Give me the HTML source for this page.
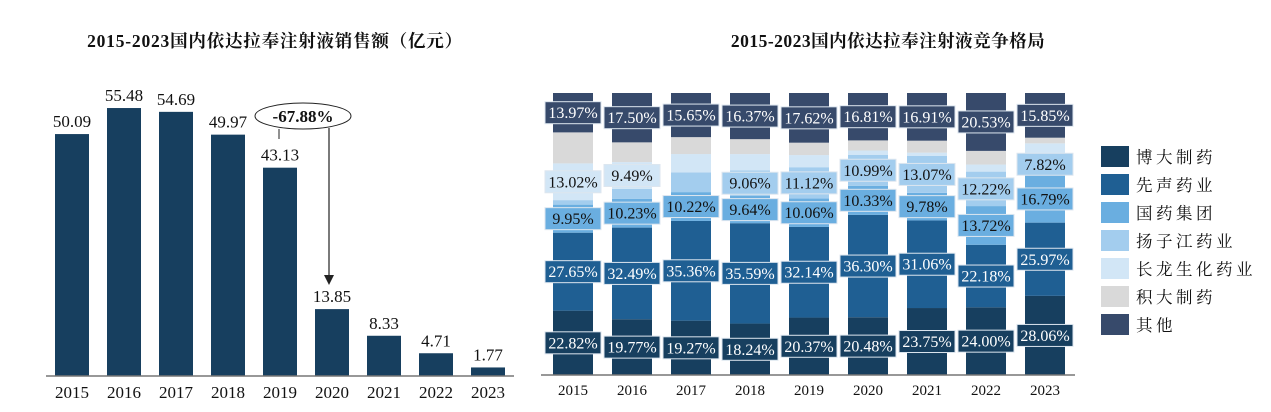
<!DOCTYPE html>
<html><head><meta charset="utf-8"><style>
html,body{margin:0;padding:0;background:#fff;width:1271px;height:412px;overflow:hidden}
svg{display:block}
text{font-family:"Liberation Serif","Noto Serif CJK SC",serif}
</style></head><body>
<svg id="s" width="1271" height="412" xmlns="http://www.w3.org/2000/svg">
<text x="275" y="47" text-anchor="middle" font-size="17.5" font-weight="bold" fill="#111" letter-spacing="0.8">2015-2023国内依达拉奉注射液销售额（亿元）</text>
<text x="888" y="47" text-anchor="middle" font-size="17.5" font-weight="bold" fill="#111" letter-spacing="0.5">2015-2023国内依达拉奉注射液竞争格局</text>
<ellipse cx="303" cy="116" rx="48" ry="13" fill="#fff" stroke="#222" stroke-width="1"/>
<text x="303" y="122" text-anchor="middle" font-size="17" font-weight="bold" fill="#111">-67.88%</text>
<line x1="279" y1="129" x2="279" y2="139" stroke="#222" stroke-width="1"/>
<line x1="329" y1="128" x2="329" y2="276" stroke="#222" stroke-width="1.2"/>
<polygon points="324,275 334,275 329,285" fill="#222"/>
</svg>
<script>
var s=document.getElementById('s'),NS='http://www.w3.org/2000/svg';
function el(t,a,txt){var e=document.createElementNS(NS,t);for(var k in a)e.setAttribute(k,a[k]);if(txt!=null)e.textContent=txt;s.appendChild(e);return e;}
var yrs=[2015,2016,2017,2018,2019,2020,2021,2022,2023];
var v=[50.09,55.48,54.69,49.97,43.13,13.85,8.33,4.71,1.77];
var base=376,sc=4.83;
for(var i=0;i<9;i++){var cx=72+52*i,h=v[i]*sc;
el('rect',{x:cx-17,y:base-h,width:34,height:h,fill:'#173f5f'});
el('text',{x:cx,y:base-h-7,'text-anchor':'middle','font-size':17,fill:'#111'},v[i].toFixed(2));
el('text',{x:cx,y:398,'text-anchor':'middle','font-size':17,fill:'#111'},yrs[i]);}
el('line',{x1:46,y1:base,x2:514,y2:base,stroke:'#777','stroke-width':1.5});
var cols=['#173f5f','#1f5f93','#6aaee0','#a3cdee','#d2e6f6','#d9d9d9','#374a6b'];
var tc=['#fff','#fff','#111','#111','#111','#111','#fff'];
var d=[[22.82,27.65,9.95,1.6,13.02,11.0,13.97],[19.77,32.49,10.23,3.5,9.49,7.0,17.5],[19.27,35.36,10.22,7,6.5,6,15.65],[18.24,35.59,9.64,9.06,5.8,5.3,16.37],[20.37,32.14,10.06,11.12,4.3,4.39,17.62],[20.48,36.30,10.33,10.99,1.5,3.59,16.81],[23.75,31.06,9.78,13.07,1.2,4.23,16.91],[24.00,22.18,13.72,12.22,2.5,4.85,20.53],[28.06,25.97,16.79,7.82,3.5,2.01,15.85]];
var TOP=93,BOT=375,H=BOT-TOP;
for(var i=0;i<9;i++){var cx=573+59*i,sum=0;d[i].forEach(function(x){sum+=x});
var y=BOT,labs=[];
for(var j=0;j<7;j++){var h=d[i][j]/sum*H;
el('rect',{x:cx-20,y:y-h,width:40,height:h,fill:cols[j]});
var show=(j!=5)&&!(j==3&&d[i][3]<7.5)&&!(j==4&&d[i][4]<8);
if(show)labs.push([y-h/2,j,d[i][j]]);
y-=h;}
labs.forEach(function(L){var t=L[2].toFixed(2)+'%';
el('rect',{x:cx-28,y:L[0]-11,width:56,height:22,fill:cols[L[1]],stroke:'#dde6ef','stroke-width':1});
el('text',{x:cx,y:L[0]+5.5,'text-anchor':'middle','font-size':16,fill:tc[L[1]]},t);});
el('text',{x:cx,y:395,'text-anchor':'middle','font-size':15,fill:'#111'},yrs[i]);}
el('line',{x1:541,y1:BOT,x2:1075,y2:BOT,stroke:'#777','stroke-width':1.5});
var names=['博大制药','先声药业','国药集团','扬子江药业','长龙生化药业','积大制药','其他'];
for(var j=0;j<7;j++){var yc=157+28*j;
el('rect',{x:1101,y:yc-11,width:28,height:21,fill:cols[j]});
el('text',{x:1136,y:yc+6,'font-size':16.5,'letter-spacing':3.5,fill:'#111'},names[j]);}
</script>
</body></html>
